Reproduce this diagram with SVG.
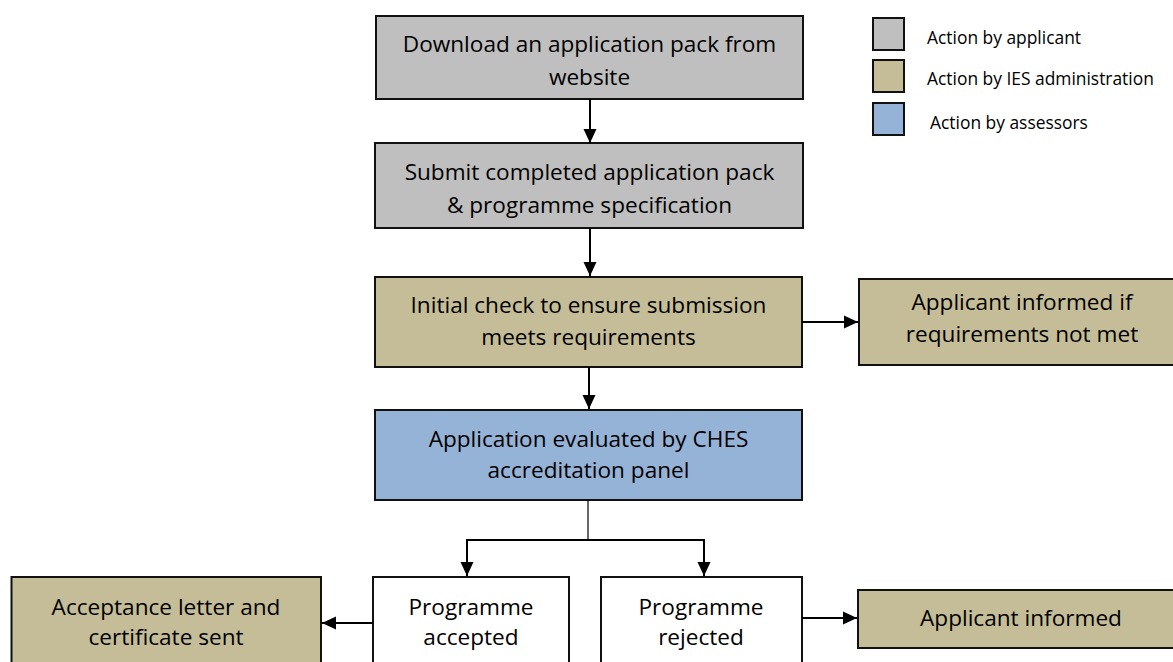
<svg xmlns="http://www.w3.org/2000/svg" width="1173" height="662" viewBox="0 0 1173 662">
<style>
.box{stroke:#111;stroke-width:2}
.ap{fill:#bfbfbf}
.ad{fill:#c4bd97}
.as{fill:#95b3d7}
.wh{fill:#fff}
.t{font-family:"Open Sans","Liberation Sans",sans-serif;font-size:22.6px;fill:#000;text-anchor:middle}
.lg{font-family:"Open Sans","Liberation Sans",sans-serif;font-size:17.4px;fill:#000}
.c{stroke:#000;stroke-width:2;fill:none}
</style>
<defs>
<marker id="ah" markerUnits="userSpaceOnUse" markerWidth="16" markerHeight="16" viewBox="0 0 16 16" refX="14" refY="8" orient="auto">
<path d="M0,1.5 L14,8 L0,14.5 Z" fill="#000"/>
</marker>
</defs>
<g id="legend">
<rect class="box ap" x="873" y="18" width="31" height="32"/>
<text class="lg" x="927" y="44">Action by applicant</text>
<rect class="box ad" x="873" y="60" width="31" height="32"/>
<text class="lg" x="927" y="85">Action by IES administration</text>
<rect class="box as" x="873" y="103" width="31" height="32"/>
<text class="lg" x="930" y="129">Action by assessors</text>
</g>
<g id="download">
<rect class="box ap" x="376" y="16" width="427" height="83"/>
<text class="t" x="589.5" y="52">Download an application pack from</text>
<text class="t" x="589.5" y="85">website</text>
</g>
<g id="submit">
<rect class="box ap" x="375" y="143" width="428" height="85"/>
<text class="t" x="589.5" y="180">Submit completed application pack</text>
<text class="t" x="589.5" y="213">&amp; programme specification</text>
</g>
<g id="check">
<rect class="box ad" x="375" y="277" width="427" height="90"/>
<text class="t" x="588.5" y="313">Initial check to ensure submission</text>
<text class="t" x="588.5" y="345">meets requirements</text>
</g>
<g id="informed-if">
<rect class="box ad" x="859" y="279" width="320" height="86"/>
<text class="t" x="1022" y="310">Applicant informed if</text>
<text class="t" x="1022" y="342">requirements not met</text>
</g>
<g id="evaluated">
<rect class="box as" x="375" y="410" width="427" height="90"/>
<text class="t" x="588.5" y="447">Application evaluated by CHES</text>
<text class="t" x="588.5" y="478">accreditation panel</text>
</g>
<g id="accepted">
<rect class="box wh" x="373" y="577" width="196" height="95"/>
<text class="t" x="471" y="615">Programme</text>
<text class="t" x="471" y="645">accepted</text>
</g>
<g id="rejected">
<rect class="box wh" x="601" y="577" width="201" height="95"/>
<text class="t" x="701" y="615">Programme</text>
<text class="t" x="701" y="645">rejected</text>
</g>
<g id="acceptance-letter">
<rect class="box ad" x="11.5" y="577" width="309.5" height="95"/>
<text class="t" x="166" y="615">Acceptance letter and</text>
<text class="t" x="166" y="645">certificate sent</text>
</g>
<g id="informed">
<rect class="box ad" x="858" y="590" width="320" height="58"/>
<text class="t" x="1021" y="626">Applicant informed</text>
</g>
<g id="connectors">
<line class="c" x1="590" y1="99" x2="590" y2="143" marker-end="url(#ah)"/>
<line class="c" x1="590" y1="228" x2="590" y2="276" marker-end="url(#ah)"/>
<line class="c" x1="589" y1="367" x2="589" y2="409" marker-end="url(#ah)"/>
<line class="c" x1="802" y1="322" x2="858" y2="322" marker-end="url(#ah)"/>
<line x1="588" y1="500" x2="588" y2="540" stroke="#000" stroke-width="1.2"/>
<polyline class="c" points="467,540 704,540 704,576" marker-end="url(#ah)"/>
<line class="c" x1="467" y1="539" x2="467" y2="576" marker-end="url(#ah)"/>
<line class="c" x1="373" y1="623" x2="322" y2="623" marker-end="url(#ah)"/>
<line class="c" x1="802" y1="618" x2="857" y2="618" marker-end="url(#ah)"/>
</g>
</svg>
